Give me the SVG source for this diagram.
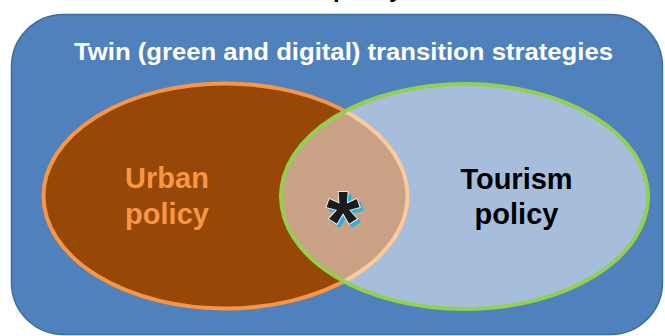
<svg xmlns="http://www.w3.org/2000/svg" width="665" height="336" viewBox="0 0 665 336">
  <defs>
    <style>
      .lbl { font-family: "Liberation Sans", Arial, Helvetica, sans-serif; font-weight: bold; }
      .title { font-size: 23px; fill: #FFFFFF; }
      .set { font-size: 29px; text-anchor: middle; }
    </style>
    <clipPath id="clip-tourism">
      <ellipse cx="464.5" cy="196.5" rx="183.5" ry="112.5"/>
    </clipPath>
    <!-- cyan offset shadow behind the overlap mark -->
    <filter id="mark-shadow" x="-50%" y="-50%" width="200%" height="200%">
      <feOffset in="SourceAlpha" dx="3" dy="3" result="off"/>
      <feFlood flood-color="#31B0D5"/>
      <feComposite in2="off" operator="in" result="shadow"/>
      <feMerge>
        <feMergeNode in="shadow"/>
        <feMergeNode in="SourceGraphic"/>
      </feMerge>
    </filter>
  </defs>

  <rect width="665" height="336" fill="#FFFFFF"/>

  <!-- heading above the frame, clipped by the top edge -->
  <text class="lbl" x="333" y="-3" font-size="24" fill="#000000">policy</text>

  <!-- outer frame -->
  <g id="frame">
    <rect x="11.5" y="14.5" width="651" height="320" rx="52" ry="52" fill="#4F81BD" stroke="#3F6C9E" stroke-width="1.5"/>
    <text class="lbl title" x="74" y="59.5" textLength="539" lengthAdjust="spacingAndGlyphs">Twin (green and digital) transition strategies</text>
  </g>

  <!-- urban policy set -->
  <g id="urban">
    <ellipse cx="225.5" cy="196" rx="182" ry="112.5" fill="#974706" stroke="#F79646" stroke-width="4"/>
    <text class="lbl set" x="167" y="188" fill="#F79646">Urban</text>
    <text class="lbl set" x="167" y="224" fill="#F79646">policy</text>
  </g>

  <!-- tourism policy set -->
  <g id="tourism">
    <ellipse cx="464.5" cy="196.5" rx="183.5" ry="112.5" fill="#A6BEDC"/>
    <text class="lbl set" x="516.5" y="189" fill="#000000">Tourism</text>
    <text class="lbl set" x="516.5" y="224" fill="#000000">policy</text>
  </g>

  <!-- overlap of the two sets -->
  <g id="overlap">
    <ellipse cx="225.5" cy="196" rx="182" ry="112.5" fill="#C9A184" stroke="#FCC99B" stroke-width="4" clip-path="url(#clip-tourism)"/>
    <ellipse cx="464.5" cy="196.5" rx="183.5" ry="112.5" fill="none" stroke="#92D050" stroke-width="4"/>
    <text class="lbl" x="343" y="251" font-size="86" text-anchor="middle" fill="#1A1A1A" stroke="#FFFFFF" stroke-width="1.5" paint-order="stroke" filter="url(#mark-shadow)">*</text>
  </g>
</svg>
